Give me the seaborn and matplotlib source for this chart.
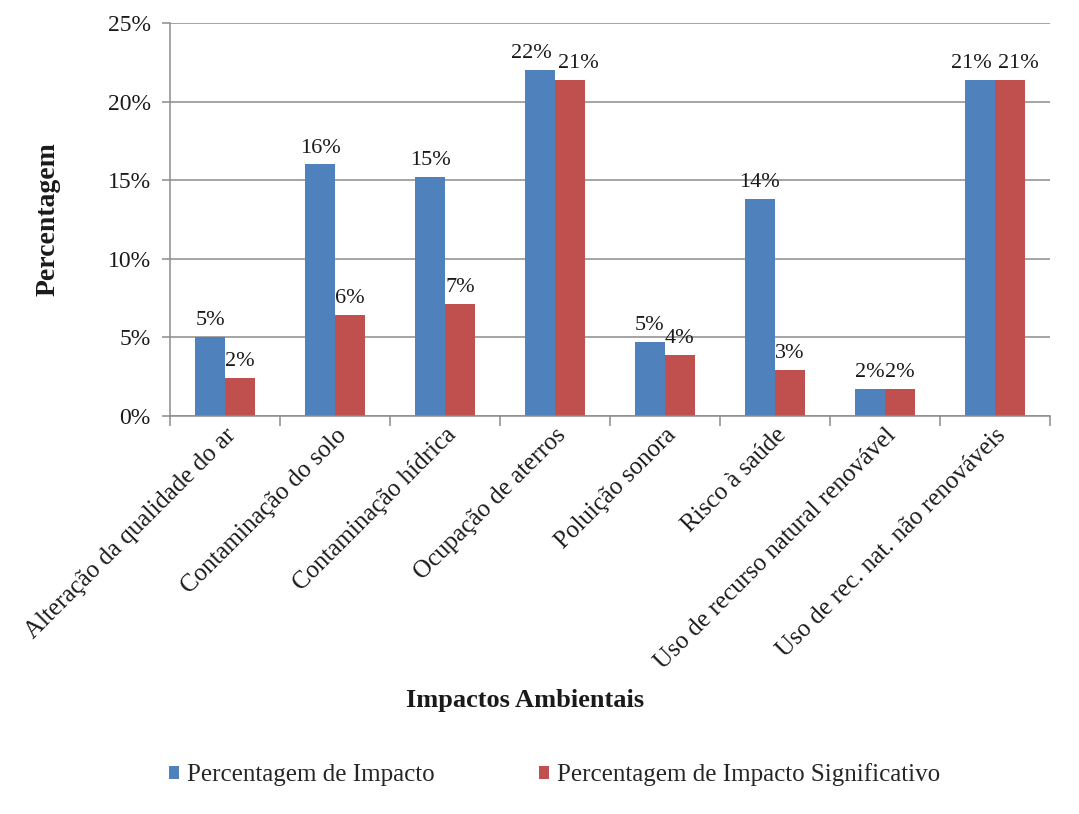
import numpy as np
import pandas as pd
import matplotlib
matplotlib.use("Agg")
import matplotlib.pyplot as plt
import seaborn as sns
from matplotlib.ticker import FuncFormatter, FixedLocator
from matplotlib.patches import Patch

categorias = [
    "Alteração da qualidade do ar",
    "Contaminação do solo",
    "Contaminação hídrica",
    "Ocupação de aterros",
    "Poluição sonora",
    "Risco à saúde",
    "Uso de recurso natural renovável",
    "Uso de rec. nat. não renováveis",
]
impacto = [5.0, 16.0, 15.2, 22.0, 4.7, 13.8, 1.7, 21.4]
impacto_significativo = [2.4, 6.4, 7.1, 21.4, 3.9, 2.9, 1.7, 21.4]
series = ["Percentagem de Impacto", "Percentagem de Impacto Significativo"]
cores = ["#4F81BD", "#C0504D"]

df = pd.DataFrame({
    "categoria": categorias * 2,
    "valor": impacto + impacto_significativo,
    "serie": [series[0]] * len(categorias) + [series[1]] * len(categorias),
})

sns.set_style("white")
plt.rcParams["font.family"] = ["Liberation Serif", "DejaVu Serif"]
texto = "#1a1a1a"
eixo = "#8c8c8c"

fig = plt.figure(figsize=(10.79, 8.14), dpi=100)
ax = fig.add_axes([0.1576, 0.489, 0.8154, 0.4827])

sns.barplot(data=df, x="categoria", y="valor", hue="serie", order=categorias,
            hue_order=series, palette=cores, width=0.545, gap=0,
            saturation=1, edgecolor="none", linewidth=0, ax=ax, legend=False)

ax.set_ylim(0, 25)
ax.set_xlim(-0.5, len(categorias) - 0.5)
ax.yaxis.set_major_locator(FixedLocator([0, 5, 10, 15, 20, 25]))
ax.yaxis.set_major_formatter(FuncFormatter(lambda v, p: f"{v:.0f}%"))
ax.grid(axis="y", color=eixo, linewidth=1.1)
ax.set_axisbelow(True)

for s in ["top", "right"]:
    ax.spines[s].set_visible(False)
for s in ["left", "bottom"]:
    ax.spines[s].set_visible(True)
    ax.spines[s].set_color(eixo)
    ax.spines[s].set_linewidth(1.1)

# value labels above each bar
rotulos = []
for cont in ax.containers:
    rotulos.append(ax.bar_label(cont, labels=[f"{b.get_height():.0f}%" for b in cont],
                                padding=5, fontsize=16, color=texto))

# push apart the two labels of a category when they collide
fig.canvas.draw()
r = fig.canvas.get_renderer()
inv = ax.transData.inverted()
for ta, tb in zip(rotulos[0], rotulos[1]):
    ba, bb = ta.get_window_extent(r), tb.get_window_extent(r)
    if ba.overlaps(bb):
        sobra = (ba.x1 - bb.x0) / 2 + 3
        for t, sinal in ((ta, -1), (tb, 1)):
            x0, y0 = t.xy
            px, py = ax.transData.transform((x0, y0))
            t.xy = tuple(inv.transform((px + sinal * sobra, py)))

# category separators on the x axis
ax.set_xticks(np.arange(-0.5, len(categorias) + 0.5, 1), minor=True)
ax.tick_params(axis="x", which="minor", length=7, color=eixo, width=1.1,
               direction="out", bottom=True)
ax.tick_params(axis="x", which="major", length=0, pad=6)
ax.tick_params(axis="y", which="major", length=6, color=eixo, width=1.1,
               direction="out", left=True, labelsize=17, pad=8)
ax.set_xticks(range(len(categorias)))
ax.set_xticklabels(categorias, rotation=45, ha="right", rotation_mode="anchor",
                   fontsize=18, color=texto)
for t in ax.get_yticklabels():
    t.set_color(texto)

ax.set_xlabel("Impactos Ambientais", fontsize=19, fontweight="bold", color=texto)
ax.set_ylabel("Percentagem", fontsize=20, fontweight="bold", color=texto)
ax.xaxis.set_label_coords(0.403, -0.695)
ax.yaxis.set_label_coords(-0.125, 0.5)

handles = [Patch(facecolor=c, edgecolor="none") for c in cores]
fig.legend(handles, series, loc="center", bbox_to_anchor=(0.514, 0.048),
           ncol=2, frameon=False, fontsize=18, handlelength=0.4,
           handleheight=0.4, handletextpad=0.3, columnspacing=4.2)

fig.savefig("out.png", dpi=100, facecolor="white")
